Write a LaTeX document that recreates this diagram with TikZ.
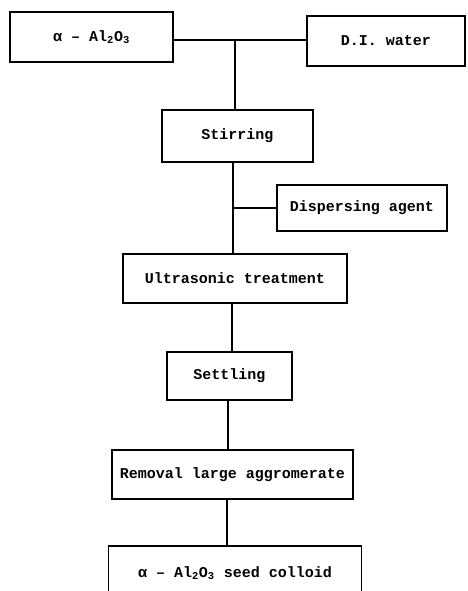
\documentclass[tikz,border=0pt]{standalone}
\usepackage{fontspec}
\setmainfont{Liberation Mono}
\begin{document}
\begin{tikzpicture}[x=1pt,y=-1pt,
  box/.style={draw, line width=1.1pt, rectangle, inner sep=0pt, font=\bfseries\fontsize{15}{18}\selectfont},
  conn/.style={line width=1.1pt}]
\useasboundingbox[fill=white] (0,0) rectangle (467,591);
\node[box, minimum width=163pt, minimum height=50pt] (al) at (91.5,37) {α – Al\textsubscript{2}O\textsubscript{3}};
\node[box, minimum width=158pt, minimum height=50pt] (di) at (386,41) {D.I. water};
\node[box, minimum width=151pt, minimum height=52pt] (stir) at (237.5,136) {Stirring};
\node[box, minimum width=170pt, minimum height=46pt] (disp) at (362,208) {Dispersing agent};
\node[box, minimum width=224pt, minimum height=49pt] (ultra) at (235,278.5) {Ultrasonic treatment};
\node[box, minimum width=125pt, minimum height=48pt] (settle) at (229.5,376) {Settling};
\node[box, minimum width=241pt, minimum height=49pt] (rem) at (232.5,474.5) {Removal large aggromerate};
\node[box, draw=none, minimum width=252pt, minimum height=53pt, anchor=north] (fin) at (235,546) {α – Al\textsubscript{2}O\textsubscript{3} seed colloid};
\draw[conn] (fin.south west) -- (fin.north west) -- (fin.north east) -- (fin.south east);
\coordinate (j1) at (235,40);
\coordinate (j2) at (233,208);
\coordinate (j3) at (232,0);
\coordinate (j4) at (228,0);
\coordinate (j5) at (227,0);
\draw[conn] (al.east |- j1) -- (di.west |- j1);
\draw[conn] (j1) -- (stir.north -| j1);
\draw[conn] (stir.south -| j2) -- (ultra.north -| j2);
\draw[conn] (j2) -- (disp.west);
\draw[conn] (ultra.south -| j3) -- (settle.north -| j3);
\draw[conn] (settle.south -| j4) -- (rem.north -| j4);
\draw[conn] (rem.south -| j5) -- (fin.north -| j5);
\end{tikzpicture}
\end{document}
